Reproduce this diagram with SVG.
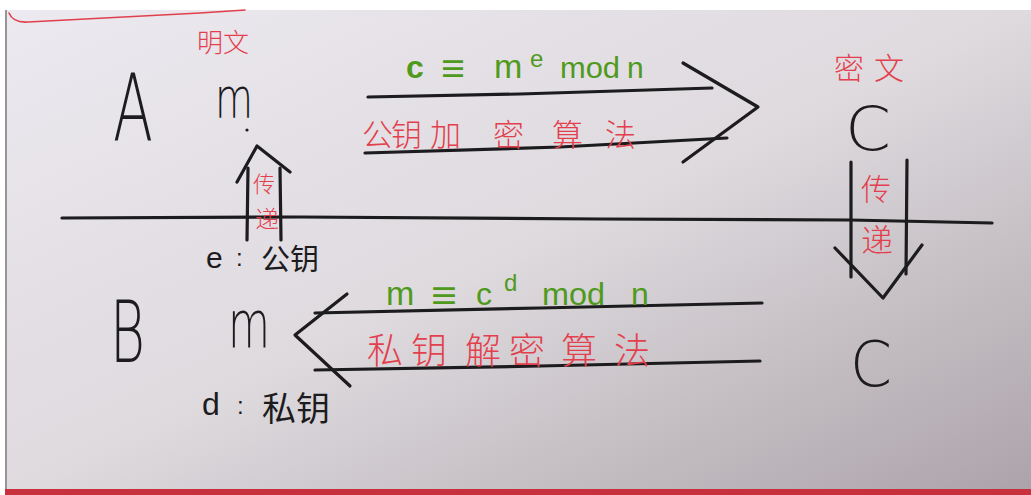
<svg xmlns="http://www.w3.org/2000/svg" width="1031" height="495" viewBox="0 0 1031 495">
<defs>
<linearGradient id="paper" x1="0" y1="0" x2="1" y2="1">
<stop offset="0" stop-color="#ece9f0"/>
<stop offset="0.5" stop-color="#dedade"/>
<stop offset="1" stop-color="#aba3a9"/>
</linearGradient>
<style>
.ink{fill:none;stroke:#1c1b1d;stroke-width:3.2;stroke-linecap:round;stroke-linejoin:round}
.redline{fill:none;stroke:#e0404c;stroke-width:1.6;stroke-linecap:round}
.big{font-family:"DejaVu Sans","Liberation Sans",sans-serif;font-weight:200;fill:#1c1b1d}
.red{font-family:"Liberation Sans","Noto Sans CJK SC",sans-serif;fill:#e3404e;font-weight:300}
.grn{font-family:"Liberation Sans","Noto Sans CJK SC",sans-serif;fill:#4f9a1c}
.blk{font-family:"Liberation Sans","Noto Sans CJK SC",sans-serif;fill:#1c1b1d}
</style>
</defs>
<rect width="1031" height="495" fill="#ffffff"/>
<rect x="5" y="10" width="1026" height="485" fill="url(#paper)"/>
<rect x="5" y="10" width="2" height="485" fill="#9a9498"/>
<path class="redline" d="M9 13 Q13 23 28 22 L200 13 L245 10"/>
<rect x="5" y="489" width="1026" height="6" fill="#c8303e"/>

<g id="connectors">
<path id="divider" class="ink" d="M62 218 L300 217 L600 219 L850 220 L992 223"/>
<g id="encrypt-arrow">
<path class="ink" d="M368 97 L520 94 L712 88"/>
<path class="ink" d="M365 153 L560 147 L727 138"/>
<path class="ink" d="M683 63 L758 107 L683 162"/>
</g>
<g id="decrypt-arrow">
<path class="ink" d="M315 313 L540 308 L762 303"/>
<path class="ink" d="M315 370 L540 366 L760 361"/>
<path class="ink" d="M347 294 L295 335 L350 386"/>
</g>
<g id="key-transfer-up">
<path class="ink" d="M247 240 L248 168"/>
<path class="ink" d="M281 240 L280 168"/>
<path class="ink" d="M237 182 L257 146 L290 172"/>
<text class="red" x="253" y="192" font-size="22">传</text>
<text class="red" x="255" y="228" font-size="24">递</text>
</g>
<g id="cipher-transfer-down">
<path class="ink" d="M851 162 L851 277"/>
<path class="ink" d="M907 160 L906 274"/>
<path class="ink" d="M835 248 L883 298 L922 245"/>
<text class="red" x="861" y="200" font-size="30">传</text>
<text class="red" x="861" y="252" font-size="32">递</text>
</g>
</g>

<g id="label-plaintext"><text class="red" x="197" y="52" font-size="26">明文</text></g>
<g id="label-ciphertext"><text class="red" x="834" y="79" font-size="30" letter-spacing="10">密文</text></g>

<g id="node-A"><text class="big" x="113" y="140" font-size="92" textLength="40" lengthAdjust="spacingAndGlyphs">A</text></g>
<g id="node-mA">
<text class="big" x="215" y="117" font-size="56" textLength="38" lengthAdjust="spacingAndGlyphs">m</text>
<circle cx="247" cy="130" r="1.6" fill="#1c1b1d"/>
</g>
<g id="node-C1"><text class="big" x="845" y="150" font-size="60" textLength="46" lengthAdjust="spacingAndGlyphs">C</text></g>
<g id="node-B"><text class="big" x="110" y="362" font-size="86" textLength="35" lengthAdjust="spacingAndGlyphs">B</text></g>
<g id="node-mB"><text class="big" x="228" y="347" font-size="65" textLength="42" lengthAdjust="spacingAndGlyphs">m</text></g>
<g id="node-C2"><text class="big" x="850" y="386" font-size="62" textLength="42" lengthAdjust="spacingAndGlyphs">C</text></g>

<g id="formula-encrypt" class="grn">
<text x="406" y="78" font-size="32" font-weight="bold">c</text>
<text x="441" y="82" font-size="40" textLength="24" lengthAdjust="spacingAndGlyphs">≡</text>
<text x="494" y="78" font-size="34">m</text>
<text x="530" y="67" font-size="24">e</text>
<text x="560" y="78" font-size="30" textLength="60" lengthAdjust="spacingAndGlyphs">mod</text>
<text x="627" y="78" font-size="30">n</text>
</g>
<g id="label-encrypt"><text class="red" y="146" font-size="31" x="362 391 430 493 552 605">公钥加密算法</text></g>

<g id="formula-decrypt" class="grn">
<text x="386" y="305" font-size="34">m</text>
<text x="431" y="309" font-size="40" textLength="26" lengthAdjust="spacingAndGlyphs">≡</text>
<text x="476" y="305" font-size="32">c</text>
<text x="504" y="291" font-size="24">d</text>
<text x="542" y="305" font-size="32" textLength="63" lengthAdjust="spacingAndGlyphs">mod</text>
<text x="631" y="305" font-size="32">n</text>
</g>
<g id="label-decrypt"><text class="red" y="364" font-size="36" x="367 411 465 509 561 614">私钥解密算法</text></g>

<g id="label-public-key" class="blk">
<text x="206" y="268" font-size="30">e</text>
<text x="236" y="266" font-size="24">:</text>
<text x="261" y="270" font-size="29">公钥</text>
</g>
<g id="label-private-key" class="blk">
<text x="202" y="415" font-size="32">d</text>
<text x="237" y="414" font-size="24">:</text>
<text x="262" y="421" font-size="34">私钥</text>
</g>
</svg>
